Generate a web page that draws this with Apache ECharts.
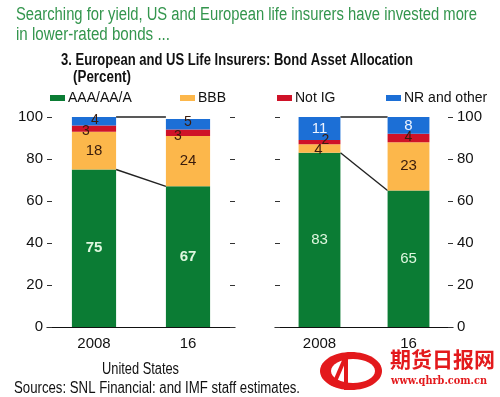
<!DOCTYPE html>
<html>
<head>
<meta charset="utf-8">
<script src="https://cdn.jsdelivr.net/npm/echarts@6/dist/echarts.min.js"></script>
<style>
  html, body { margin: 0; padding: 0; background: #fff; }
  #main { width: 500px; height: 397px; }
</style>
</head>
<body>
<div id="main"></div>
<script>
// categories
var years = ['2008', '16'];

// United States
var usAAA = [75, 67];
var usBBB = [18, 24];
var usNotIG = [3, 3];
var usNR = [4, 5];

// Europe
var euAAA = [83, 65];
var euBBB = [4, 23];
var euNotIG = [2, 4];
var euNR = [11, 8];

var yTicks = [0, 20, 40, 60, 80, 100];
var legendNames = ['AAA/AA/A', 'BBB', 'Not IG', 'NR and other'];

var GREEN = '#0b7c34', YELLOW = '#fcb74b', RED = '#cf1228', BLUE = '#1c6fd6';
var FONT = '"Liberation Sans", Arial, sans-serif';
var BAR_W = 0.47;

var chart = echarts.init(document.getElementById('main'));

// squeeze a text horizontally so it spans the given width (reference uses a condensed face)
var measureCtx = document.createElement('canvas').getContext('2d');
function fitText(text, font, x, y, width, color) {
    measureCtx.font = font;
    var w = measureCtx.measureText(text).width;
    return {
        type: 'text', x: x, y: y, scaleX: width / w, silent: true,
        style: { text: text, font: font, fill: color }
    };
}

function lbl(color, extra) {
    var o = { show: true, position: 'inside', color: color, fontFamily: FONT, fontSize: 14 };
    for (var k in extra) o[k] = extra[k];
    return o;
}

// bar data with per-item label tweaks for the thin segments
function items(vals, offs) {
    return vals.map(function (v, i) {
        var d = { value: v };
        if (offs && offs[i]) d.label = { offset: offs[i] };
        return d;
    });
}

function linkSeries(xi, yi, from) {
    return {
        type: 'custom',
        xAxisIndex: xi,
        yAxisIndex: yi,
        silent: true,
        encode: { x: 0, y: 1 },
        data: [[0, from[0], from[1]], [0, 100, 100]],
        renderItem: function (params, api) {
            var a = api.coord([0, api.value(1)]);
            var b = api.coord([1, api.value(2)]);
            var half = api.size([1, 0])[0] * BAR_W / 2;
            return {
                type: 'line',
                shape: { x1: a[0] + half, y1: a[1], x2: b[0] - half, y2: b[1] },
                style: { stroke: '#222', lineWidth: 1.4 }
            };
        }
    };
}

function panelBars(xi, yi, stack, aaa, bbb, notig, nr, offs) {
    return [
        { name: legendNames[0], type: 'bar', stack: stack, xAxisIndex: xi, yAxisIndex: yi, barWidth: (BAR_W * 100) + '%',
          itemStyle: { color: GREEN }, label: lbl('#dff7df', { fontWeight: offs.bold ? 'bold' : 'normal', fontSize: 15 }), data: items(aaa) },
        { name: legendNames[1], type: 'bar', stack: stack, xAxisIndex: xi, yAxisIndex: yi,
          itemStyle: { color: YELLOW }, label: lbl('#3a1c0c', { fontSize: 15 }), data: items(bbb, offs.bbb) },
        { name: legendNames[2], type: 'bar', stack: stack, xAxisIndex: xi, yAxisIndex: yi,
          itemStyle: { color: RED }, label: lbl('#3a1c0c'), data: items(notig, offs.notig) },
        { name: legendNames[3], type: 'bar', stack: stack, xAxisIndex: xi, yAxisIndex: yi,
          itemStyle: { color: BLUE }, label: lbl(offs.nrColor || '#3a1c0c', offs.nrColor ? { fontSize: 15 } : {}), data: items(nr, offs.nr) }
    ];
}

function xAx(gi) {
    return {
        type: 'category', gridIndex: gi, data: years,
        axisLine: { lineStyle: { color: '#111', width: 1.2 } },
        axisTick: { inside: true, length: 4, lineStyle: { color: '#333' } },
        axisLabel: { color: '#111', fontFamily: FONT, fontSize: 15, margin: 9 }
    };
}

function yAx(gi, pos, showLabel) {
    return {
        type: 'value', gridIndex: gi, position: pos, min: 0, max: 100, interval: 20,
        axisLine: { show: false },
        axisTick: { show: true, inside: true, length: 5, lineStyle: { color: '#333' } },
        splitLine: { show: false },
        axisLabel: { show: showLabel, color: '#111', fontFamily: FONT, fontSize: 15, margin: 4,
            formatter: function (v) { return yTicks.indexOf(v) >= 0 ? v : ''; } }
    };
}

function legendAt(i, left) {
    return {
        data: [legendNames[i]], top: 91, left: left, itemWidth: 15, itemHeight: 6, itemGap: 0,
        icon: 'rect', padding: 0,
        textStyle: { color: '#111', fontFamily: FONT, fontSize: 14, padding: [0, 0, 0, -2] }
    };
}

var series = []
    .concat(panelBars(0, 0, 'us', usAAA, usBBB, usNotIG, usNR, {
        bold: true, notig: [[-8, 3], [-10, 3]], nr: [[1, -1], [0, -2]]
    }))
    .concat(panelBars(1, 2, 'eu', euAAA, euBBB, euNotIG, euNR, {
        bbb: [[-1, 1], null], notig: [[6, -2], [0, -1]], nrColor: '#eef4ff'
    }));
series.push(linkSeries(0, 0, usAAA));
series.push(linkSeries(1, 2, euAAA));

var WM = '#e3191c';

chart.setOption({
    animation: false,
    textStyle: { fontFamily: FONT },
    legend: [legendAt(0, 50), legendAt(1, 180), legendAt(2, 277), legendAt(3, 386)],
    grid: [
        { left: 47, right: 265, top: 117, bottom: 70 },
        { left: 275, right: 47, top: 117, bottom: 70 }
    ],
    xAxis: [xAx(0), xAx(1)],
    yAxis: [yAx(0, 'left', true), yAx(0, 'right', false), yAx(1, 'left', false), yAx(1, 'right', true)],
    graphic: [
        fitText('Searching for yield, US and European life insurers have invested more', '18px ' + FONT, 16, 6, 461, '#33954d'),
        fitText('in lower-rated bonds ...', '18px ' + FONT, 16, 26, 154, '#33954d'),
        fitText('3. European and US Life Insurers: Bond Asset Allocation', 'bold 16px ' + FONT, 61, 53, 352, '#111'),
        fitText('(Percent)', 'bold 16px ' + FONT, 73, 70, 58, '#111'),
        fitText('United States', '16px ' + FONT, 102, 362, 77, '#111'),
        fitText('Sources: SNL Financial: and IMF staff estimates.', '16px ' + FONT, 14, 381, 286, '#111'),
        // watermark over the second panel's caption
        { type: 'ellipse', silent: true, shape: { cx: 351, cy: 371, rx: 31, ry: 19 }, style: { fill: WM } },
        { type: 'ellipse', silent: true, shape: { cx: 353, cy: 371, rx: 22, ry: 12 }, style: { fill: '#fff' } },
        { type: 'line', silent: true, shape: { x1: 346, y1: 353, x2: 346, y2: 390 }, style: { stroke: WM, lineWidth: 4 } },
        { type: 'line', silent: true, shape: { x1: 333, y1: 386, x2: 346, y2: 356 }, style: { stroke: WM, lineWidth: 4 } },
        { type: 'text', x: 390, y: 349, style: { text: '期货日报网', fill: WM, font: 'bold 21px "Noto Sans CJK SC"' } },
        fitText('www.qhrb.com.cn', 'bold 11px "DejaVu Serif", serif', 391, 376, 96, WM)
    ],
    series: series
});
</script>
</body>
</html>
